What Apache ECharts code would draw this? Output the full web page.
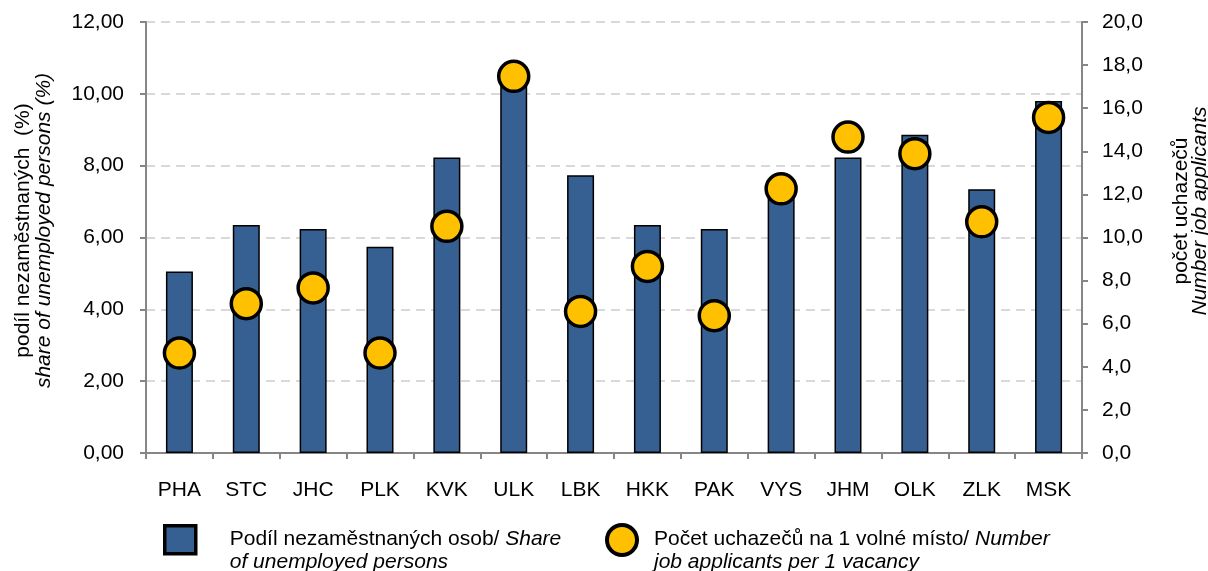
<!DOCTYPE html>
<html>
<head>
<meta charset="utf-8">
<script src="https://cdn.jsdelivr.net/npm/echarts@6/dist/echarts.min.js"></script>
<style>
html,body{margin:0;padding:0;background:#fff;}
#c{width:1208px;height:571px;}
</style>
</head>
<body>
<div id="c"></div>
<script>
const categories = ['PHA','STC','JHC','PLK','KVK','ULK','LBK','HKK','PAK','VYS','JHM','OLK','ZLK','MSK'];
const shareUnemployed = [5.05,6.35,6.24,5.74,8.23,10.45,7.73,6.35,6.24,7.40,8.23,8.86,7.34,9.80];
const applicantsPerVacancy = [4.64,6.93,7.66,4.64,10.52,17.48,6.57,8.66,6.37,12.26,14.66,13.89,10.73,15.57];
const leftTicks = {min:0,max:12,interval:2};
const rightTicks = {min:0,max:20,interval:2};

const FONT = '"Liberation Sans", Arial, sans-serif';
const FS = 21;
const chart = echarts.init(document.getElementById('c'), null, {renderer:'canvas'});
const axisGray = '#868686';
chart.setOption({
  animation:false,
  backgroundColor:'#fff',
  textStyle:{fontFamily:FONT},
  grid:{left:146,right:126,top:22,bottom:118,containLabel:false,outerBoundsMode:'none'},
  xAxis:{
    type:'category',
    data:categories,
    boundaryGap:true,
    axisLine:{lineStyle:{color:axisGray,width:2}},
    axisTick:{show:true,alignWithLabel:false,length:6,lineStyle:{color:axisGray,width:2}},
    axisLabel:{color:'#000',fontSize:FS,fontFamily:FONT,margin:27}
  },
  yAxis:[{
    type:'value',min:leftTicks.min,max:leftTicks.max,interval:leftTicks.interval,
    position:'left',
    axisLine:{show:true,lineStyle:{color:axisGray,width:2}},
    axisTick:{show:true,length:6,lineStyle:{color:axisGray,width:2}},
    axisLabel:{color:'#000',fontSize:FS,fontFamily:FONT,margin:22,formatter:v=>v.toFixed(2).replace('.',',')},
    splitLine:{show:true,lineStyle:{color:'#D9D9D9',width:2,type:[9,6]}},
    name:'{a|podíl nezaměstnaných  (%)}\n{b|share of unemployed persons (%)}',
    nameLocation:'middle',nameRotate:90,nameGap:91,
    nameTextStyle:{align:'center',padding:[0,0,0,14],rich:{
      a:{fontSize:FS,fontFamily:FONT,color:'#000',lineHeight:21},
      b:{fontSize:FS,fontFamily:FONT,fontStyle:'italic',color:'#000',lineHeight:21}
    }}
  },{
    type:'value',min:rightTicks.min,max:rightTicks.max,interval:rightTicks.interval,
    position:'right',
    axisLine:{show:true,lineStyle:{color:axisGray,width:2}},
    axisTick:{show:true,length:6,lineStyle:{color:axisGray,width:2}},
    axisLabel:{color:'#000',fontSize:FS,fontFamily:FONT,margin:20,formatter:v=>v.toFixed(1).replace('.',',')},
    splitLine:{show:false}
  }],
  graphic:[{
    type:'text',
    x:1191,y:211,rotation:Math.PI/2,
    style:{
      text:'{a|počet uchazečů}\n{b|Number job applicants}',
      align:'center',verticalAlign:'middle',
      rich:{
        a:{fontSize:FS,fontFamily:FONT,fill:'#000',lineHeight:19},
        b:{fontSize:FS,fontFamily:FONT,fontStyle:'italic',fill:'#000',lineHeight:19}
      }
    }
  }],
  legend:[{
    data:['Podíl nezaměstnaných osob/ Share of unemployed persons'],
    left:163,top:524,orient:'vertical',padding:0,
    itemWidth:31,itemHeight:28,
    icon:'rect',
    itemStyle:{color:'#376092',borderColor:'#000',borderWidth:3.5},
    formatter:()=>'{n|Podíl nezaměstnaných osob/ }{i|Share}\n{i|of unemployed persons}',
    textStyle:{padding:[21,0,0,29],rich:{
      n:{fontSize:FS,fontFamily:FONT,color:'#000',lineHeight:23},
      i:{fontSize:FS,fontFamily:FONT,fontStyle:'italic',color:'#000',lineHeight:23}
    }}
  },{
    data:['Počet uchazečů na 1 volné místo/ Number job applicants per 1 vacancy'],
    left:605,top:523,orient:'vertical',padding:0,
    itemWidth:30,itemHeight:30,
    icon:'circle',
    itemStyle:{color:'#FFC000',borderColor:'#000',borderWidth:4},
    formatter:()=>'{n|Počet uchazečů na 1 volné místo/ }{i|Number}\n{i|job applicants per 1 vacancy}',
    textStyle:{padding:[21,0,0,12],rich:{
      n:{fontSize:FS,fontFamily:FONT,color:'#000',lineHeight:23},
      i:{fontSize:FS,fontFamily:FONT,fontStyle:'italic',color:'#000',lineHeight:23}
    }}
  }],
  series:[{
    name:'Podíl nezaměstnaných osob/ Share of unemployed persons',
    type:'bar',
    yAxisIndex:0,
    data:shareUnemployed,
    barWidth:27,
    itemStyle:{color:'#376092',borderColor:'#000',borderWidth:1.5}
  },{
    name:'Počet uchazečů na 1 volné místo/ Number job applicants per 1 vacancy',
    type:'scatter',
    yAxisIndex:1,
    data:applicantsPerVacancy,
    symbol:'circle',
    symbolSize:30,
    itemStyle:{color:'#FFC000',borderColor:'#000',borderWidth:3.5,opacity:1},
    z:5
  }]
});
</script>
</body>
</html>
